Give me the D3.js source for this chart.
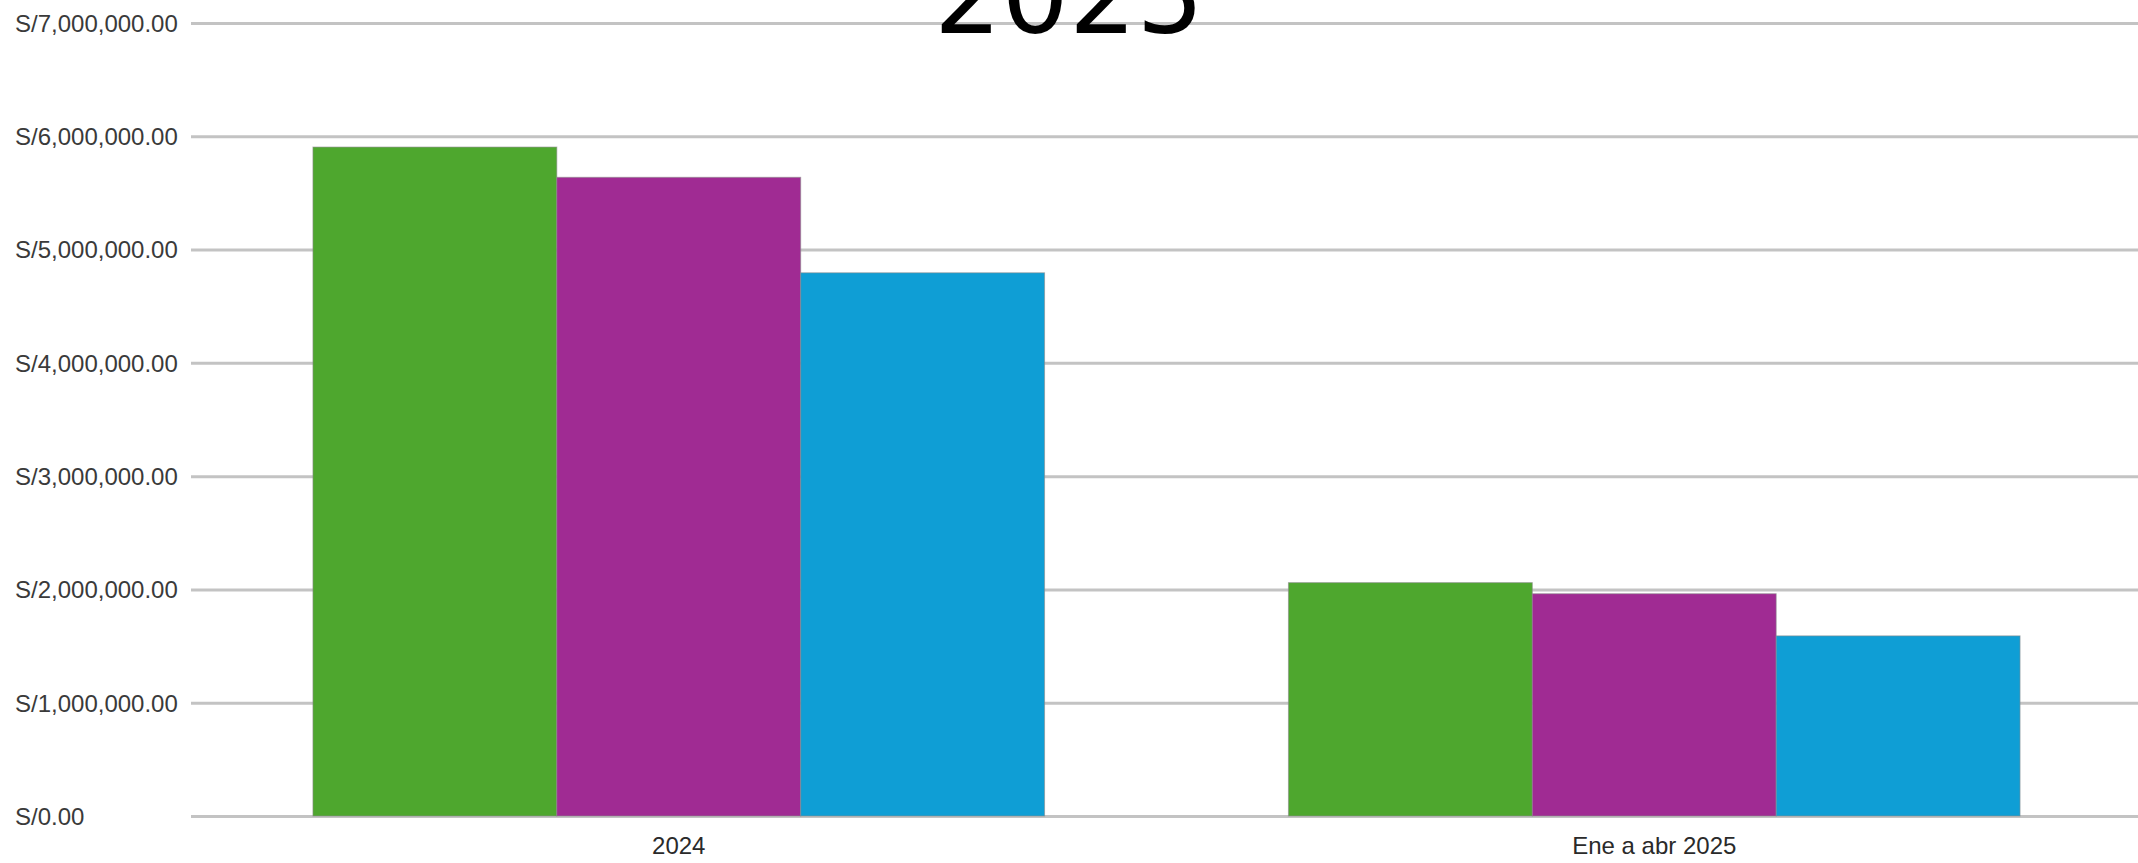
<!DOCTYPE html>
<html>
<head>
<meta charset="utf-8">
<script src="https://cdn.jsdelivr.net/npm/d3@7"></script>
<style>
  html, body { margin: 0; padding: 0; background: #ffffff; overflow: hidden; }
  svg { display: block; }
</style>
</head>
<body>
<svg id="chart" width="2138" height="863"></svg>
<script>
// ---- Data ----
const categories = ["2024", "Ene a abr 2025"];
const seriesNames = ["Serie 1", "Serie 2", "Serie 3"];
const serie1 = [5905000, 2060000];
const serie2 = [5638000, 1962000];
const serie3 = [4795000, 1590000];
const yTickValues = [0, 1000000, 2000000, 3000000, 4000000, 5000000, 6000000, 7000000];
const seriesColors = ["#4EA72E", "#A02B93", "#0F9ED5"];
const titleText = "2025";

// ---- Layout ----
const W = 2138, H = 863;
const plotLeft = 191, plotRight = 2142, plotTop = 23, plotBottom = 816;

const svg = d3.select("#chart");

const seriesValues = [serie1, serie2, serie3];
const rows = categories.map((c, i) => ({
  category: c,
  values: seriesNames.map((s, j) => ({ key: s, value: seriesValues[j][i], idx: j }))
}));

const x0 = d3.scaleBand().domain(categories).range([plotLeft, plotRight])
  .paddingInner(0.25).paddingOuter(0.125);
const x1 = d3.scaleBand().domain(seriesNames).range([0, x0.bandwidth()]).padding(0);
const y = d3.scaleLinear().domain([0, 7000000]).range([plotBottom, plotTop]);
const color = d3.scaleOrdinal().domain(seriesNames).range(seriesColors);

const fmt = d3.format(",.2f");

// y axis + gridlines
const yAxis = svg.append("g")
  .attr("transform", `translate(${plotLeft},0)`)
  .call(d3.axisLeft(y).tickValues(yTickValues).tickSize(-(W - plotLeft)).tickFormat(d => "S/" + fmt(d)));
yAxis.select(".domain").remove();
yAxis.selectAll(".tick line").attr("stroke", "#c3c3c3").attr("stroke-width", 3);
yAxis.selectAll(".tick text")
  .attr("x", 15 - plotLeft)
  .attr("dy", "0.35em")
  .attr("text-anchor", "start")
  .attr("fill", "#3a3a3a")
  .style("font-family", "'Liberation Sans', Arial, sans-serif")
  .style("font-size", "24px");

// bars
const groups = svg.append("g").selectAll("g")
  .data(rows).join("g")
  .attr("transform", d => `translate(${x0(d.category)},0)`);
groups.selectAll("rect")
  .data(d => d.values).join("rect")
  .attr("x", d => x1(d.key))
  .attr("y", d => y(d.value))
  .attr("width", x1.bandwidth())
  .attr("height", d => y(0) - y(d.value))
  .attr("fill", d => color(d.key))
  .attr("stroke", "#8a8a8a")
  .attr("stroke-opacity", 0.6)
  .attr("stroke-width", 1);

// x axis
const xAxis = svg.append("g")
  .attr("transform", `translate(0,${plotBottom})`)
  .call(d3.axisBottom(x0).tickSize(0));
xAxis.select(".domain").remove();
xAxis.selectAll(".tick text")
  .attr("y", 38)
  .attr("dy", 0)
  .attr("fill", "#2a2a2a")
  .style("font-family", "'Liberation Sans', Arial, sans-serif")
  .style("font-size", "24px");

// title (only the last line visible at the top edge)
svg.append("text")
  .attr("x", W / 2)
  .attr("y", 33)
  .attr("text-anchor", "middle")
  .attr("fill", "#000")
  .style("font-family", "'DejaVu Sans', sans-serif")
  .style("font-size", "106px")
  .text(titleText);
</script>
</body>
</html>
